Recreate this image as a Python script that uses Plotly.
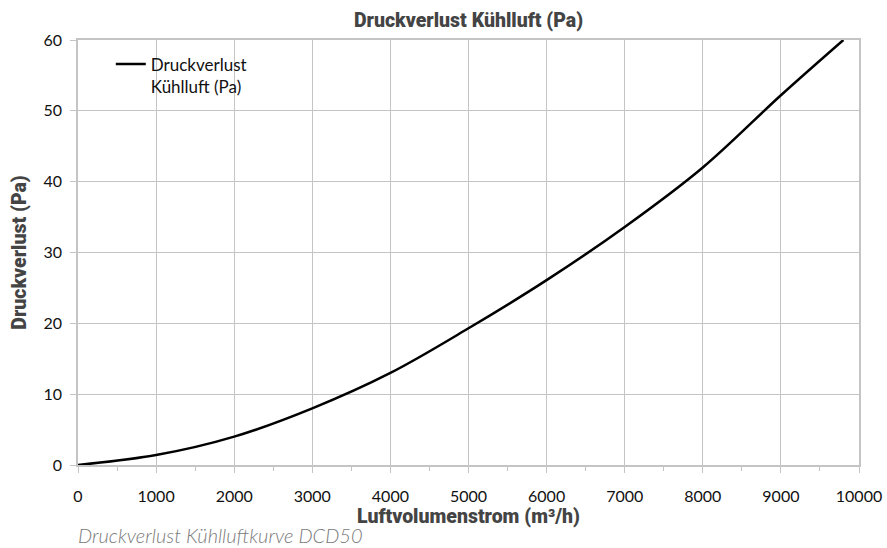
import plotly.graph_objects as go

# Luftvolumenstrom (m³/h) und Druckverlust (Pa)
volumenstrom = [0, 1000, 2000, 3000, 4000, 5000, 6000, 7000, 8000, 9000, 9800]
druckverlust = [0, 1.4, 4.0, 8.0, 13.0, 19.3, 26.1, 33.6, 42.0, 52.2, 60.0]

x_ticks = list(range(0, 10001, 1000))
x_labels = [str(v) for v in x_ticks]
y_ticks = list(range(0, 61, 10))
y_labels = [str(v) for v in y_ticks]

TITLE = "Druckverlust Kühlluft (Pa)"
SERIES = "Druckverlust<br>Kühlluft (Pa)"
X_TITLE = "Luftvolumenstrom (m³/h)"
Y_TITLE = "Druckverlust (Pa)"
CAPTION = "Druckverlust Kühlluftkurve DCD50"

GRID = "#c4c4c4"
HEAD_FONT = dict(family="Roboto", size=19.5, color="#444444", weight=900)
TICK_FONT = dict(family="Lato", size=16, color="#111111")

fig = go.Figure()
fig.add_trace(go.Scatter(
    x=volumenstrom, y=druckverlust, mode="lines", name=SERIES,
    line=dict(color="black", width=2.5, shape="spline", smoothing=1.0),
))

fig.update_layout(
    width=887, height=548,
    margin=dict(l=78, r=28, t=40, b=83),
    paper_bgcolor="white", plot_bgcolor="white",
    showlegend=True,
    legend=dict(x=0.042, y=0.985, xanchor="left", yanchor="top",
                bgcolor="rgba(255,255,255,0)", valign="top",
                font=dict(family="Lato", size=17, color="#111111")),
    title=dict(text=TITLE, x=0.5, xref="paper", xanchor="center",
               y=0.963, yref="container", yanchor="middle", font=HEAD_FONT),
)

fig.update_xaxes(
    range=[0, 10000], tickvals=x_ticks, ticktext=x_labels, ticks="outside",
    ticklen=6, tickcolor=GRID, tickfont=TICK_FONT, ticklabelstandoff=10,
    showgrid=True, gridcolor=GRID, gridwidth=1, showline=True,
    linecolor=GRID, linewidth=1.5, mirror=True, zeroline=False,
    automargin=False,
    minor=dict(dtick=500, ticks="outside", ticklen=4, tickcolor=GRID,
               showgrid=False),
    title=dict(text=X_TITLE, font=HEAD_FONT, standoff=0),
)
fig.update_yaxes(
    range=[0, 60], tickvals=y_ticks, ticktext=y_labels, ticks="outside",
    ticklen=6, tickcolor=GRID, tickfont=TICK_FONT, ticklabelstandoff=5,
    showgrid=True, gridcolor=GRID, gridwidth=1, showline=True,
    linecolor=GRID, linewidth=1.5, mirror=True, zeroline=False,
    automargin=False,
    title=dict(text=Y_TITLE, font=HEAD_FONT, standoff=12),
)

fig.add_annotation(
    text=CAPTION, xref="paper", yref="paper", x=-0.002, y=-0.165,
    xanchor="left", yanchor="middle", showarrow=False,
    font=dict(family="Lato", size=20, color="#7a7a7a", style="italic",
              weight=300),
)

fig.write_html("out.html")
